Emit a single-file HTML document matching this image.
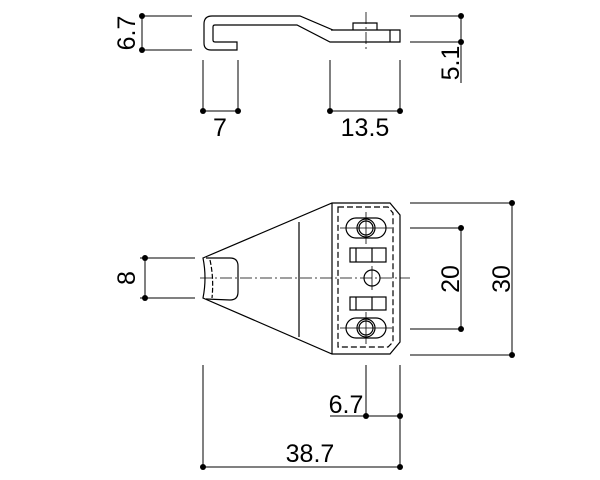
<!DOCTYPE html>
<html><head><style>body{margin:0;background:#fff}svg{display:block}</style></head><body>
<svg width="600" height="480" viewBox="0 0 600 480" xmlns="http://www.w3.org/2000/svg" font-family="Liberation Sans, sans-serif" font-size="25" fill="none" stroke="#000" stroke-width="1.2">
<path d="M300,16 L212,16 Q204,16 204,24 L204,43 Q204,50 211,50 L237,50 L237,42 L215,42 Q213,42 213,40 L213,27 Q213,25 215,25 L297,25 L330,42 L400,42 L400,30 L333,30 L300,16 Z"/>
<path d="M333,30 L331,30 M353,30 L353,23 L377,23 L377,30 M390,30 L390,42"/>
<path d="M366,12 L366,52" stroke-dasharray="12,3,2,3" stroke-width="0.8"/>
<g stroke-width="1">
<path d="M142,16 H192 M142,50 H192 M142,16 V50"/>
<path d="M410,16 H461 M410,42 H461 M461,16 V83"/>
<path d="M203,60 V111 M238,60 V111 M203,111 H238"/>
<path d="M330,60 V111 M400,60 V111 M330,111 H400"/>
</g>
<g fill="#000" stroke="none">
<circle cx="142" cy="16" r="3"/><circle cx="142" cy="50" r="3"/>
<circle cx="461" cy="16" r="3"/><circle cx="461" cy="42" r="3"/>
<circle cx="203" cy="111" r="3"/><circle cx="238" cy="111" r="3"/>
<circle cx="330" cy="111" r="3"/><circle cx="400" cy="111" r="3"/>
<text x="220" y="136" text-anchor="middle">7</text>
<text x="365" y="136" text-anchor="middle">13.5</text>
<text transform="translate(135,33) rotate(-90)" text-anchor="middle">6.7</text>
<text transform="translate(459,63) rotate(-90)" text-anchor="middle">5.1</text>
</g>
<path d="M203,258 L332,203 L390,203 L400,215 L400,342 L390,354 L332,354 L203,298 Q207,278 203,258 Z"/>
<path d="M332,203 V354 M299,222 V337"/>
<path d="M206,258 L230,258 Q238,258 238,266 L238,292 Q238,300 230,300 L206,299"/>
<path d="M210,260 Q214,278 212,298" stroke-dasharray="5,2"/>
<path d="M338,207 L388,207 L393,213 L393,342 L388,347 L338,347 Z" stroke-dasharray="6,3"/>
<rect x="346" y="218" width="40" height="20" rx="10"/>
<circle cx="366" cy="228" r="9"/><circle cx="366" cy="228" r="7"/>
<rect x="346" y="318" width="40" height="20" rx="10"/>
<circle cx="366" cy="328" r="9"/><circle cx="366" cy="328" r="7"/>
<rect x="350" y="248" width="36" height="14"/><path d="M356,248 V262 M372,248 V262"/>
<rect x="350" y="297" width="36" height="13"/><path d="M356,297 V310 M372,297 V310"/>
<circle cx="372" cy="278" r="8"/>
<g stroke-width="0.8">
<path d="M200,278 H410" stroke-dasharray="12,3,2,3"/>
<path d="M340,228 H392 M366,212 V244 M340,328 H392 M366,312 V344 M372,266 V290"/>
</g>
<g stroke-width="1">
<path d="M140,258 H195 M140,298 H195 M145,258 V298"/>
<path d="M410,203 H512 M410,355 H512 M512,203 V355"/>
<path d="M410,228 H461 M410,329 H461 M461,228 V329"/>
<path d="M366,365 V416 M400,365 V467 M330,416 H400"/>
<path d="M203,365 V467 M203,467 H400"/>
</g>
<g fill="#000" stroke="none">
<circle cx="145" cy="258" r="3"/><circle cx="145" cy="298" r="3"/>
<circle cx="512" cy="203" r="3"/><circle cx="512" cy="355" r="3"/>
<circle cx="461" cy="228" r="3"/><circle cx="461" cy="329" r="3"/>
<circle cx="366" cy="416" r="3"/><circle cx="400" cy="416" r="3"/>
<circle cx="203" cy="467" r="3"/><circle cx="400" cy="467" r="3"/>
<text transform="translate(135,278) rotate(-90)" text-anchor="middle">8</text>
<text transform="translate(459,279) rotate(-90)" text-anchor="middle">20</text>
<text transform="translate(510,279) rotate(-90)" text-anchor="middle">30</text>
<text x="346" y="413" text-anchor="middle">6.7</text>
<text x="310" y="462" text-anchor="middle">38.7</text>
</g>
</svg>
</body></html>
